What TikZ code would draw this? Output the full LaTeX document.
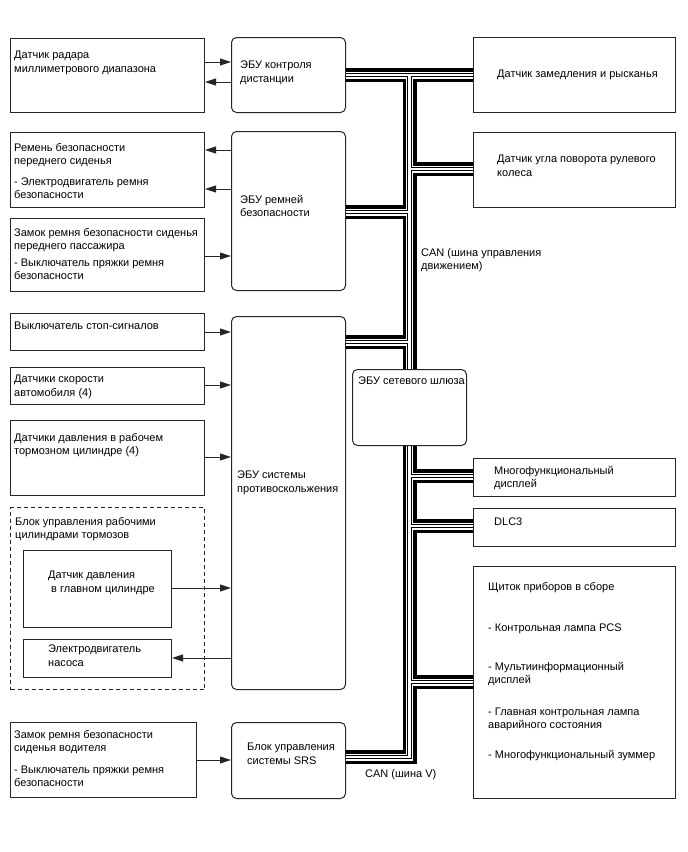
\documentclass[tikz,border=0pt]{standalone}
\usepackage{fontspec}
\setmainfont{Liberation Sans}
\usetikzlibrary{arrows.meta, positioning}

\begin{document}
\begin{tikzpicture}[
    x=1pt, y=-1pt,
    box/.style={rectangle, draw=black!85, line width=1pt, anchor=north west,
                inner sep=0pt},
    ecu/.style={box, rounded corners=5pt},
    group/.style={box, dash pattern=on 4pt off 3pt},
    txt/.style={anchor=north west, inner sep=0pt, align=left,
                font=\fontsize{11}{13.5}\selectfont},
    arrow/.style={line width=1pt, draw=black!85,
                  -{Triangle[length=11pt, width=7pt]}},
    bus/.style={line join=miter, line cap=butt,
                preaction={draw=black, line width=14pt},
                preaction={draw=white, line width=7pt},
                preaction={draw=black, line width=4.4pt},
                draw=white, line width=2.2pt}
]
    \path[use as bounding box, fill=white] (0,0) rectangle (688,852);

    % left column
    \node[box, minimum width=194pt, minimum height=74pt]  (radar)      at (10,38)  {};
    \node[box, minimum width=194pt, minimum height=75pt]  (belt)       at (10,132) {};
    \node[box, minimum width=194pt, minimum height=73pt]  (passBuckle) at (10,218) {};
    \node[box, minimum width=194pt, minimum height=37pt]  (stopSw)     at (10,313) {};
    \node[box, minimum width=194pt, minimum height=37pt]  (speedSens)  at (10,367) {};
    \node[box, minimum width=194pt, minimum height=75pt]  (presSens)   at (10,420) {};
    \node[group, minimum width=194pt, minimum height=182pt] (brakeAct) at (10,507) {};
    \node[box, minimum width=148pt, minimum height=77pt]  (masterSens) at (23,550) {};
    \node[box, minimum width=148pt, minimum height=38pt]  (pump)       at (23,639) {};
    \node[box, minimum width=186pt, minimum height=75pt]  (drvBuckle)  at (10,722) {};

    % control units
    \node[ecu, minimum width=114pt, minimum height=75pt]  (distEcu) at (231,37)  {};
    \node[ecu, minimum width=114pt, minimum height=159pt] (beltEcu) at (231,131) {};
    \node[ecu, minimum width=114pt, minimum height=373pt] (skidEcu) at (231,316) {};
    \node[ecu, minimum width=114pt, minimum height=76pt]  (srsEcu)  at (231,722) {};

    % right column
    \node[box, minimum width=202pt, minimum height=75pt]  (yawSens)   at (473,37)  {};
    \node[box, minimum width=202pt, minimum height=75pt]  (steerSens) at (473,132) {};
    \node[box, minimum width=202pt, minimum height=38pt]  (mfd)       at (473,458) {};
    \node[box, minimum width=202pt, minimum height=38pt]  (dlc)       at (473,508) {};
    \node[box, minimum width=202pt, minimum height=232pt] (meter)     at (473,566) {};

    % CAN bus
    \coordinate (canTop) at (409.5,75);
    \coordinate (canBot) at (409.5,757);
    \draw[bus] (distEcu.east |- canTop) -- (yawSens.west |- canTop)
               (canTop) -- (canBot) -- (srsEcu.east |- canBot)
               (canTop |- 0,169) -- (steerSens.west |- 0,169)
               (canTop |- 0,212) -- (beltEcu.east |- 0,212)
               (canTop |- 0,342) -- (skidEcu.east |- 0,342)
               (canTop |- 0,476) -- (mfd.west |- 0,476)
               (canTop |- 0,526) -- (dlc.west |- 0,526)
               (canTop |- 0,682) -- (meter.west |- 0,682);
    \node[ecu, fill=white, minimum width=114pt, minimum height=76pt] (gateway) at (352,369) {};

    % texts
    \node[txt] (radarT) at (14,51) {Датчик радара\\миллиметрового диапазона};
    \node[txt] (beltT) at (14,143) {Ремень безопасности\\переднего сиденья\\[7pt]- Электродвигатель ремня\\безопасности};
    \node[txt] (passT) at (14,228) {Замок ремня безопасности сиденья\\переднего пассажира\\[3pt]- Выключатель пряжки ремня\\безопасности};
    \node[txt] (stopT) at (14,322) {Выключатель стоп-сигналов};
    \node[txt] (speedT) at (14,375) {Датчики скорости\\автомобиля (4)};
    \node[txt] (presT) at (14,433) {Датчики давления в рабочем\\тормозном цилиндре (4)};
    \node[txt] (brakeT) at (15,517) {Блок управления рабочими\\цилиндрами тормозов};
    \node[txt] (masterT) at (48,571) {Датчик давления\\\hspace*{3pt}в главном цилиндре};
    \node[txt] (pumpT) at (48,645) {Электродвигатель\\насоса};
    \node[txt] (drvT) at (14,730) {Замок ремня безопасности\\сиденья водителя\\[8pt]- Выключатель пряжки ремня\\безопасности};

    \node[txt] (distT) at (240,61) {ЭБУ контроля\\дистанции};
    \node[txt] (beltEcuT) at (240,195) {ЭБУ ремней\\безопасности};
    \node[txt] (skidT) at (237,471) {ЭБУ системы\\противоскольжения};
    \node[txt] (srsT) at (247,743) {Блок управления\\системы SRS};
    \node[txt] (gateT) at (358,377) {ЭБУ сетевого шлюза};

    \node[txt] (yawT) at (497,70) {Датчик замедления и рысканья};
    \node[txt] (steerT) at (497,155) {Датчик угла поворота рулевого\\колеса};
    \node[txt] (mfdT) at (494,466) {Многофункциональный\\дисплей};
    \node[txt] (dlcT) at (494,518) {DLC3};
    \node[txt] (meterT) at (488,582) {Щиток приборов в сборе\\[27.5pt]- Контрольная лампа PCS\\[25.5pt]- Мультиинформационный\\дисплей\\[18pt]- Главная контрольная лампа\\аварийного состояния\\[16pt]- Многофункциональный зуммер};

    \node[txt] (canT) at (421,248) {CAN (шина управления\\движением)};
    \node[txt] (canVT) at (365,769) {CAN (шина V)};

    % signals
    \draw[arrow] (radar.east |- 0,62)      -- (distEcu.west |- 0,62);
    \draw[arrow] (distEcu.west |- 0,82)    -- (radar.east |- 0,82);
    \draw[arrow] (beltEcu.west |- 0,150)   -- (belt.east |- 0,150);
    \draw[arrow] (beltEcu.west |- 0,189)   -- (belt.east |- 0,189);
    \draw[arrow] (passBuckle.east |- 0,256) -- (beltEcu.west |- 0,256);
    \draw[arrow] (stopSw.east |- 0,332)    -- (skidEcu.west |- 0,332);
    \draw[arrow] (speedSens.east |- 0,385) -- (skidEcu.west |- 0,385);
    \draw[arrow] (presSens.east |- 0,457)  -- (skidEcu.west |- 0,457);
    \draw[arrow] (masterSens.east |- 0,588) -- (skidEcu.west |- 0,588);
    \draw[arrow] (skidEcu.west |- 0,658)   -- (pump.east |- 0,658);
    \draw[arrow] (drvBuckle.east |- 0,760) -- (srsEcu.west |- 0,760);
\end{tikzpicture}
\end{document}
